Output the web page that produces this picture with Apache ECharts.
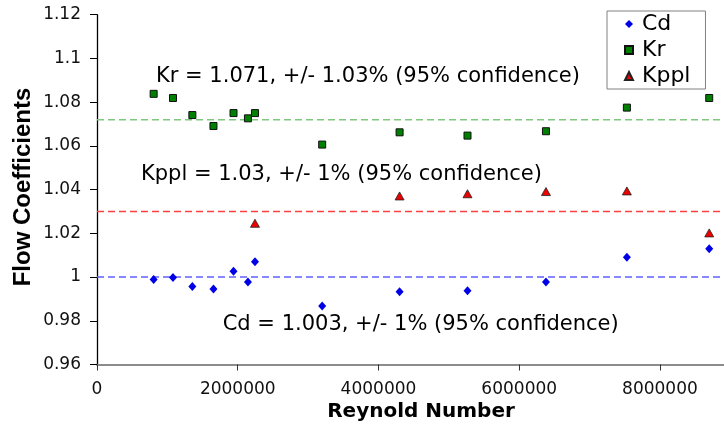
<!DOCTYPE html>
<html>
<head>
<meta charset="utf-8">
<script src="https://cdn.jsdelivr.net/npm/echarts@6/dist/echarts.min.js"></script>
<style>html,body{margin:0;padding:0;background:#fff}#c{width:724px;height:432px}</style>
</head>
<body>
<div id="c"></div>
<script>
// ---- data ----
const reynolds = [805000, 1080000, 1355000, 1655000, 1940000, 2145000, 2245000, 3200000, 4300000, 5265000, 6380000, 7530000, 8700000];
const cd = [0.9989, 0.9998, 0.9957, 0.9945, 1.0026, 0.9977, 1.0070, 0.9868, 0.9933, 0.9937, 0.9977, 1.0090, 1.0130];
const kr = [1.0838, 1.0819, 1.0741, 1.0691, 1.0750, 1.0726, 1.0750, 1.0606, 1.0662, 1.0647, 1.0667, 1.0775, 1.0819];
const reynoldsKppl = [2245000, 4300000, 5265000, 6380000, 7530000, 8700000];
const kppl = [1.0246, 1.0371, 1.0381, 1.0391, 1.0394, 1.0202];
const seriesNames = ['Cd', 'Kr', 'Kppl'];
const seriesSymbols = ['diamond', 'rect', 'triangle'];
const refCd = 1.0, refKr = 1.072, refKppl = 1.03;
const refSpan = [0, 10000000];
const annotations = [
  'Kr = 1.071, +/- 1.03% (95% confidence)',
  'Kppl = 1.03, +/- 1% (95% confidence)',
  'Cd = 1.003, +/- 1% (95% confidence)'
];
const xAxisTitle = 'Reynold Number';
const yAxisTitle = 'Flow Coefficients';

const pair = (xs, ys) => xs.map((x, i) => [x, ys[i]]);
const FONT = 'DejaVu Sans';

function refSeries(name, v, color) {
  return {
    name: name, type: 'line', symbol: 'none', silent: true, z: 1,
    lineStyle: { color: color, type: [7, 4], width: 1.5 },
    data: refSpan.map(x => [x, v])
  };
}

const chart = echarts.init(document.getElementById('c'), null, { renderer: 'canvas' });
chart.setOption({
  animation: false,
  backgroundColor: '#fff',
  grid: { left: 97, width: 703.7, top: 14.7, height: 349.8, containLabel: false, outerBoundsMode: 'none' },
  legend: {
    data: seriesNames.map((n, i) => ({ name: n, icon: seriesSymbols[i] })),
    orient: 'vertical',
    left: 607, top: 11,
    padding: [2, 15, 2, 17],
    itemGap: 4,
    itemWidth: 8, itemHeight: 8,
    backgroundColor: '#fff',
    borderColor: '#808080', borderWidth: 1,
    textStyle: { fontFamily: FONT, fontSize: 22, color: '#000', padding: [0, 0, 0, 4] }
  },
  xAxis: {
    type: 'value', min: 0, max: 10000000, interval: 2000000,
    axisLine: { show: true, lineStyle: { color: '#8c8c8c', width: 2 } },
    axisTick: { show: true, length: 6, lineStyle: { color: '#333', width: 1 } },
    axisLabel: { fontFamily: FONT, fontSize: 17, color: '#111', margin: 17,
      formatter: v => String(Math.round(v)) },
    splitLine: { show: false }
  },
  yAxis: {
    type: 'value', min: 0.96, max: 1.12, interval: 0.02,
    axisLine: { show: true, lineStyle: { color: '#000', width: 1.3 } },
    axisTick: { show: true, length: 7, lineStyle: { color: '#000', width: 1 } },
    axisLabel: { fontFamily: FONT, fontSize: 17, color: '#111', margin: 16,
      formatter: v => String(+v.toFixed(2)) },
    splitLine: { show: false }
  },
  graphic: [
    { type: 'text', x: 156, y: 76.7, style: { text: annotations[0], font: '21px "DejaVu Sans"', fill: '#000', textVerticalAlign: 'middle' } },
    { type: 'text', x: 141, y: 174.5, style: { text: annotations[1], font: '21px "DejaVu Sans"', fill: '#000', textVerticalAlign: 'middle' } },
    { type: 'text', x: 222.7, y: 324.8, style: { text: annotations[2], font: '21px "DejaVu Sans"', fill: '#000', textVerticalAlign: 'middle' } },
    { type: 'text', x: 421, y: 412, style: { text: xAxisTitle, font: 'bold 20px "DejaVu Sans"', fill: '#000', textAlign: 'center', textVerticalAlign: 'middle' } },
    { type: 'text', x: 23.5, y: 187, rotation: Math.PI / 2, style: { text: yAxisTitle, font: 'bold 24px "Liberation Sans"', fill: '#000', textAlign: 'center', textVerticalAlign: 'middle' } }
  ],
  series: [
    refSeries('refCd', refCd, '#6060ff'),
    refSeries('refKr', refKr, '#80c880'),
    refSeries('refKppl', refKppl, '#ff4040'),
    {
      name: 'Cd', type: 'scatter', symbol: seriesSymbols[0], symbolSize: [8, 9], z: 3,
      itemStyle: { color: '#0000e6', opacity: 1 },
      data: pair(reynolds, cd)
    },
    {
      name: 'Kr', type: 'scatter', symbol: seriesSymbols[1], symbolSize: 7, z: 3,
      itemStyle: { color: '#008000', borderColor: '#111', borderWidth: 1, opacity: 1 },
      data: pair(reynolds, kr)
    },
    {
      name: 'Kppl', type: 'scatter', symbol: seriesSymbols[2], symbolSize: [9, 8], z: 3,
      itemStyle: { color: '#ee0000', borderColor: '#222', borderWidth: 0.8, opacity: 1 },
      data: pair(reynoldsKppl, kppl)
    }
  ]
});
</script>
</body>
</html>
